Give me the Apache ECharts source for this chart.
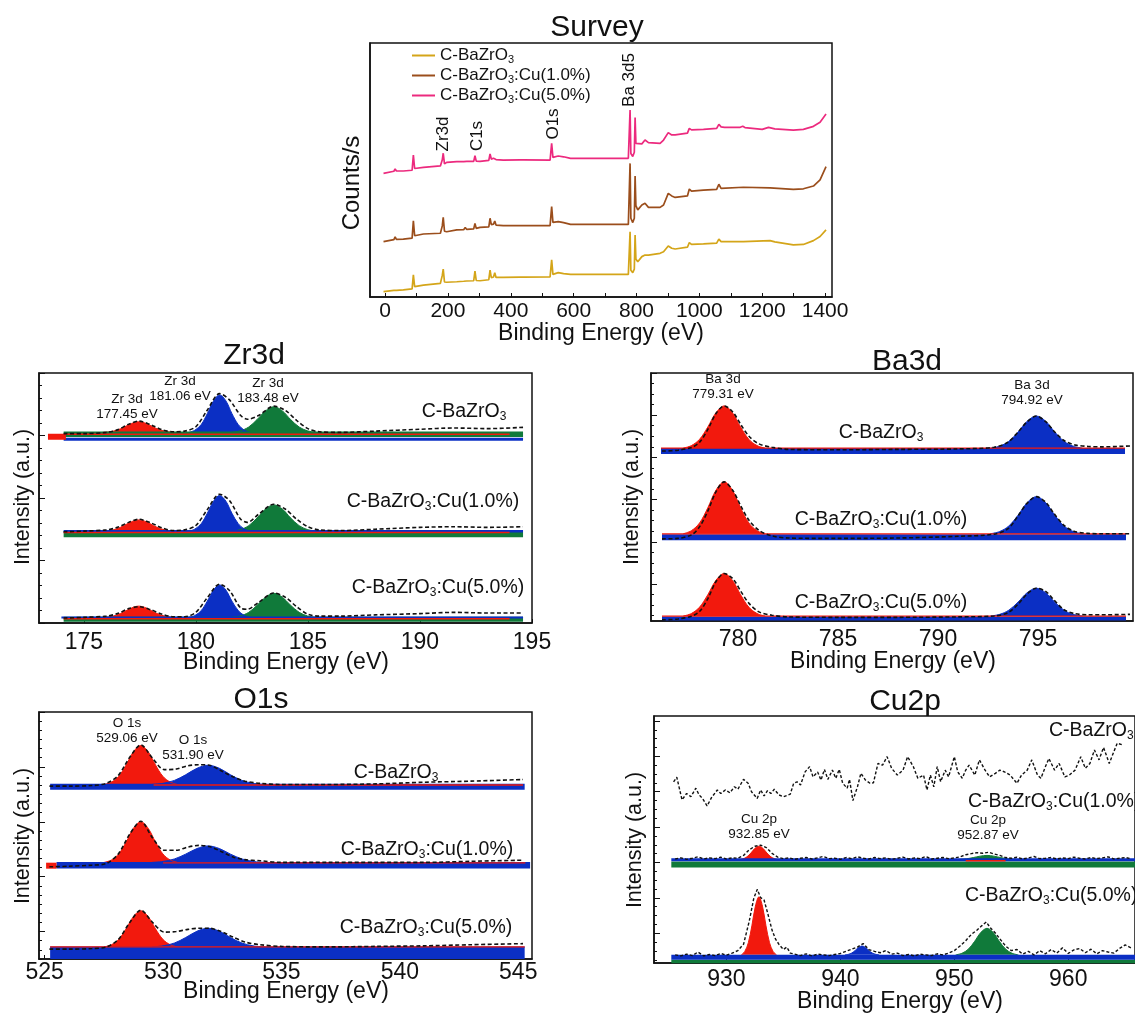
<!DOCTYPE html>
<html>
<head>
<meta charset="utf-8">
<title>XPS spectra of C-BaZrO3 and Cu-doped samples</title>
<script src="https://cdn.jsdelivr.net/npm/echarts@6/dist/echarts.min.js"></script>
<style>
  html, body { margin: 0; padding: 0; background: #ffffff; }
  #chart { width: 1135px; height: 1013px; }
</style>
</head>
<body>
<div id="chart"></div>
<script>
// ---------------------------------------------------------------------------
// Sample names (subscript 3 is rendered with rich text)
// ---------------------------------------------------------------------------
const sampleNames = ['C-BaZrO3', 'C-BaZrO3:Cu(1.0%)', 'C-BaZrO3:Cu(5.0%)'];

// ---------------------------------------------------------------------------
// Survey spectra: [binding energy (eV), counts (a.u., offset)]
// ---------------------------------------------------------------------------
const surveyTickLabels = [0, 200, 400, 600, 800, 1000, 1200, 1400];
const surveyPure = [
  [-5, 2.1], [28, 2.6], [32, 3.1], [36, 2.6], [58, 2.8], [86, 3.2], [90, 8.7], [94, 4.1], [122, 4.7],
  [176, 5.4], [182, 8.5], [185, 11.0], [189, 5.9], [196, 5.8], [228, 6.0], [250, 6.2], [255, 6.8], [260, 6.3],
  [282, 6.4], [286, 10.2], [290, 6.5], [302, 6.4], [330, 6.8], [334, 10.6], [338, 7.6], [345, 7.9], [349, 9.6],
  [353, 7.7], [376, 7.7], [430, 7.8], [435, 8.3], [440, 7.8], [525, 7.9], [530, 14.6], [534, 8.9], [551, 9.6],
  [568, 9.2], [590, 8.9], [700, 8.9], [774, 8.9], [777, 9.0], [779.5, 25.7], [782, 10.5], [788, 9.6], [793, 11.0],
  [795.5, 24.4], [798, 15.0], [804, 13.9], [817, 15.9], [827, 16.5], [838, 16.5], [875, 17.2], [886, 17.8],
  [901, 20.1], [912, 19.2], [923, 18.9], [962, 19.6], [968, 21.4], [975, 20.7], [1013, 20.9], [1055, 21.2],
  [1062, 22.8], [1069, 21.8], [1140, 21.8], [1225, 22.2], [1240, 21.7], [1299, 20.5], [1331, 20.7], [1363, 22.2],
  [1384, 23.8], [1403, 26.4]
];
const surveyCu1 = [
  [-5, 21.8], [28, 22.6], [32, 23.7], [36, 22.7], [58, 22.8], [86, 23.2], [90, 30.0], [94, 24.1], [122, 24.8],
  [176, 25.1], [182, 28.0], [185, 31.4], [189, 25.9], [196, 25.7], [228, 26.4], [250, 26.5], [255, 27.4], [260, 26.6],
  [282, 26.8], [286, 29.0], [290, 27.0], [302, 27.4], [330, 27.6], [334, 31.0], [338, 28.5], [345, 28.7], [349, 29.9],
  [353, 28.3], [376, 28.1], [430, 28.1], [435, 28.6], [440, 28.1], [525, 28.1], [530, 35.6], [534, 29.4], [551, 29.7],
  [568, 29.3], [590, 28.6], [700, 28.6], [774, 28.6], [777, 29.0], [779.5, 52.6], [782, 31.0], [788, 29.3], [793, 31.0],
  [795.5, 47.6], [798, 36.0], [804, 34.3], [817, 36.2], [827, 36.9], [838, 35.3], [875, 35.3], [886, 36.2],
  [901, 40.8], [912, 39.8], [923, 39.2], [962, 39.8], [968, 42.5], [975, 41.7], [1013, 42.1], [1055, 42.4],
  [1062, 44.4], [1069, 42.8], [1140, 43.2], [1225, 43.0], [1299, 42.4], [1331, 42.6], [1363, 43.7],
  [1384, 46.1], [1403, 51.3]
];
const surveyCu5 = [
  [-5, 48.7], [28, 49.5], [32, 50.4], [36, 49.6], [58, 49.6], [86, 49.9], [90, 55.9], [94, 50.6], [122, 51.0],
  [176, 51.6], [182, 54.0], [185, 56.6], [189, 52.4], [196, 53.0], [228, 53.3], [250, 53.3], [255, 53.8], [260, 53.4],
  [282, 53.4], [286, 55.6], [290, 53.5], [302, 53.4], [330, 53.8], [334, 56.3], [338, 54.3], [345, 54.6], [349, 55.2],
  [353, 54.1], [376, 53.9], [430, 54.0], [435, 54.6], [440, 54.0], [525, 53.9], [530, 60.5], [534, 55.0], [551, 55.5],
  [568, 55.2], [590, 54.6], [700, 54.6], [774, 54.6], [777, 55.0], [779.5, 73.6], [782, 56.5], [788, 55.3], [793, 57.0],
  [795.5, 70.7], [798, 60.5], [804, 59.8], [817, 60.3], [827, 61.8], [838, 60.8], [875, 60.5], [886, 61.8],
  [901, 64.7], [912, 63.8], [923, 63.8], [962, 64.5], [968, 66.4], [975, 65.8], [1013, 66.0], [1055, 66.4],
  [1062, 68.0], [1069, 67.0], [1080, 66.8], [1130, 66.8], [1138, 67.2], [1145, 66.7], [1200, 66.0], [1220, 66.8],
  [1240, 66.2], [1299, 65.7], [1331, 66.0], [1363, 67.2], [1384, 68.8], [1403, 72.0]
];

// ---------------------------------------------------------------------------
// Zr 3d: baselines of the three stacked spectra, fitted components
// (heights above baseline) and measured envelope
// ---------------------------------------------------------------------------
const zrTickLabels = [175, 180, 185, 190, 195];
const zrBase = [3.05, 1.47, 0.09];
const zrRedEv = [175.83, 176.15, 176.48, 176.80, 177.13, 177.45, 177.78, 178.10, 178.43, 178.75, 179.08];
const zrRedH = [
  [0, 0.010, 0.036, 0.085, 0.143, 0.17, 0.143, 0.085, 0.036, 0.010, 0],
  [0, 0.011, 0.038, 0.090, 0.151, 0.18, 0.151, 0.090, 0.038, 0.011, 0],
  [0, 0.011, 0.038, 0.090, 0.151, 0.18, 0.151, 0.090, 0.038, 0.011, 0]
];
const zrBlueEv = [179.69, 179.96, 180.24, 180.51, 180.79, 181.06, 181.34, 181.61, 181.89, 182.16, 182.44];
const zrBlueH = [
  [0, 0.036, 0.126, 0.300, 0.504, 0.60, 0.504, 0.300, 0.126, 0.036, 0],
  [0, 0.034, 0.120, 0.285, 0.479, 0.57, 0.479, 0.285, 0.120, 0.034, 0],
  [0, 0.031, 0.109, 0.260, 0.437, 0.52, 0.437, 0.260, 0.109, 0.031, 0]
];
const zrGreenEv = [181.61, 181.98, 182.36, 182.73, 183.11, 183.48, 183.86, 184.23, 184.61, 184.98, 185.36];
const zrGreenH = [
  [0, 0.025, 0.086, 0.205, 0.344, 0.41, 0.344, 0.205, 0.086, 0.025, 0],
  [0, 0.025, 0.088, 0.210, 0.353, 0.42, 0.353, 0.210, 0.088, 0.025, 0],
  [0, 0.023, 0.081, 0.193, 0.323, 0.385, 0.323, 0.193, 0.081, 0.023, 0]
];
const zrEnvEv = [174.1, 175, 176, 176.5, 177, 177.45, 178, 178.5, 179, 179.5, 180, 180.5, 181.06, 181.5,
  182, 182.3, 182.8, 183.48, 184, 184.5, 185, 185.5, 186.5, 188, 190, 191.5, 193, 194.6];
const zrEnv = [
  [-0.02, -0.02, 0.00, 0.04, 0.13, 0.18, 0.12, 0.04, 0.01, 0.02, 0.09, 0.35, 0.62, 0.52,
   0.27, 0.21, 0.27, 0.42, 0.35, 0.19, 0.06, 0.01, 0.00, 0.02, 0.05, 0.07, 0.06, 0.08],
  [-0.01, 0.00, 0.02, 0.06, 0.14, 0.19, 0.13, 0.05, 0.01, 0.02, 0.09, 0.34, 0.59, 0.49,
   0.19, 0.14, 0.27, 0.43, 0.35, 0.19, 0.07, 0.02, 0.01, 0.03, 0.06, 0.07, 0.06, 0.07],
  [-0.01, 0.00, 0.02, 0.06, 0.14, 0.17, 0.12, 0.05, 0.01, 0.01, 0.08, 0.31, 0.53, 0.43,
   0.15, 0.13, 0.24, 0.39, 0.32, 0.17, 0.05, 0.02, 0.02, 0.04, 0.06, 0.08, 0.07, 0.07]
];

// ---------------------------------------------------------------------------
// Ba 3d
// ---------------------------------------------------------------------------
const baTickLabels = [780, 785, 790, 795];
const baBase = [3.22, 1.19, -0.76];
const baRedEv = [777.26, 777.67, 778.08, 778.49, 778.90, 779.31, 779.72, 780.13, 780.54, 780.95, 781.36];
const baRedH = [
  [0, 0.060, 0.210, 0.500, 0.840, 1.00, 0.840, 0.500, 0.210, 0.060, 0],
  [0, 0.074, 0.258, 0.615, 1.033, 1.23, 1.033, 0.615, 0.258, 0.074, 0],
  [0, 0.061, 0.212, 0.505, 0.848, 1.01, 0.848, 0.505, 0.212, 0.061, 0]
];
const baBlueEv = [792.62, 793.08, 793.54, 794.00, 794.46, 794.92, 795.38, 795.84, 796.30, 796.76, 797.22];
const baBlueH = [
  [0, 0.046, 0.160, 0.380, 0.638, 0.76, 0.638, 0.380, 0.160, 0.046, 0],
  [0, 0.053, 0.185, 0.440, 0.739, 0.88, 0.739, 0.440, 0.185, 0.053, 0],
  [0, 0.040, 0.139, 0.330, 0.554, 0.66, 0.554, 0.330, 0.139, 0.040, 0]
];
const baEnvEv = [776.2, 777, 777.7, 778.1, 778.5, 778.9, 779.31, 779.75, 780.15, 780.55, 781.05, 781.7, 782.5, 785,
  788, 791, 792.8, 793.5, 794.0, 794.45, 794.92, 795.4, 795.8, 796.3, 796.8, 797.5, 798.2, 799.6];
const baEnv = [
  [-0.07, -0.05, 0.02, 0.15, 0.45, 0.82, 1.00, 0.85, 0.55, 0.28, 0.10, 0.02, -0.03, -0.04,
   -0.03, -0.02, 0.02, 0.14, 0.38, 0.62, 0.76, 0.62, 0.40, 0.18, 0.08, 0.04, 0.03, 0.05],
  [-0.12, -0.11, -0.02, 0.18, 0.55, 1.00, 1.23, 1.02, 0.65, 0.32, 0.08, -0.05, -0.10, -0.11,
   -0.10, -0.06, -0.01, 0.12, 0.42, 0.72, 0.88, 0.74, 0.48, 0.20, 0.06, 0.01, 0.00, 0.00],
  [-0.09, -0.07, 0.00, 0.12, 0.42, 0.82, 1.01, 0.88, 0.58, 0.30, 0.10, 0.02, -0.02, -0.03,
   -0.03, -0.02, 0.00, 0.08, 0.28, 0.52, 0.66, 0.58, 0.38, 0.15, 0.06, 0.03, 0.03, 0.04]
];

// ---------------------------------------------------------------------------
// O 1s
// ---------------------------------------------------------------------------
const oTickLabels = [525, 530, 535, 540, 545];
const oBase = [2.68, 1.26, -0.28];
const oRedEv = [527.51, 527.82, 528.13, 528.44, 528.75, 529.06, 529.37, 529.68, 529.99, 530.30, 530.61];
const oRedH = [
  [0, 0.043, 0.149, 0.355, 0.596, 0.71, 0.596, 0.355, 0.149, 0.043, 0],
  [0, 0.044, 0.155, 0.370, 0.622, 0.74, 0.622, 0.370, 0.155, 0.044, 0],
  [0, 0.040, 0.139, 0.330, 0.554, 0.66, 0.554, 0.330, 0.139, 0.040, 0]
];
const oBlueEv = [529.53, 530.0, 530.48, 530.95, 531.43, 531.9, 532.38, 532.85, 533.33, 533.8, 534.28];
const oBlueH = [
  [0, 0.021, 0.074, 0.175, 0.294, 0.35, 0.294, 0.175, 0.074, 0.021, 0],
  [0, 0.018, 0.063, 0.150, 0.252, 0.30, 0.252, 0.150, 0.063, 0.018, 0],
  [0, 0.020, 0.071, 0.170, 0.286, 0.34, 0.286, 0.170, 0.071, 0.020, 0]
];
const oEnvEv = [525.2, 526, 527, 527.6, 528.1, 528.6, 529.06, 529.55, 530.05, 530.55, 531.05, 531.5,
  531.95, 532.45, 532.95, 533.45, 534.1, 535, 537, 539, 541, 543, 545.2];
const oEnv = [
  [-0.03, -0.03, -0.02, 0.02, 0.16, 0.50, 0.72, 0.48, 0.27, 0.28, 0.34, 0.36,
   0.35, 0.25, 0.14, 0.06, 0.02, 0.00, 0.00, 0.01, 0.04, 0.06, 0.09],
  [-0.08, -0.07, -0.05, -0.02, 0.15, 0.52, 0.75, 0.45, 0.22, 0.22, 0.28, 0.31,
   0.29, 0.20, 0.10, 0.05, 0.03, 0.00, 0.00, 0.00, 0.00, 0.02, 0.04],
  [-0.04, -0.04, -0.03, 0.00, 0.13, 0.45, 0.67, 0.45, 0.27, 0.28, 0.32, 0.34,
   0.34, 0.28, 0.18, 0.09, 0.04, 0.01, 0.00, 0.01, 0.02, 0.04, 0.06]
];

// ---------------------------------------------------------------------------
// Cu 2p: undoped sample (absolute), doped samples relative to their baselines
// ---------------------------------------------------------------------------
const cuTickLabels = [930, 940, 950, 960];
const cuBase = [0, 2.08, -0.61];
const cuPure = [
  [925.36, 4.28], [925.64, 4.41], [926.1, 3.77], [926.5, 3.95], [926.88, 3.86], [927.31, 4.10], [927.6, 3.91],
  [927.9, 3.81], [928.3, 3.60], [928.7, 3.84], [929.2, 4.05], [929.5, 3.95], [929.9, 4.05], [930.3, 3.97],
  [930.7, 4.14], [931.0, 4.07], [931.5, 4.35], [931.9, 4.24], [932.2, 4.00], [932.7, 3.81], [933.0, 4.05],
  [933.3, 3.88], [933.6, 4.03], [933.9, 3.95], [934.2, 4.07], [934.6, 3.91], [935.0, 3.86], [935.6, 3.93],
  [935.9, 4.24], [936.2, 4.28], [936.5, 4.19], [936.9, 4.56], [937.3, 4.71], [937.6, 4.42], [938.0, 4.56],
  [938.3, 4.33], [938.6, 4.63], [938.9, 4.35], [939.3, 4.61], [939.6, 4.38], [939.9, 4.63], [940.2, 4.24],
  [940.6, 4.10], [940.8, 4.35], [941.1, 3.75], [941.5, 4.14], [941.8, 4.52], [942.2, 4.33], [942.6, 4.24],
  [942.9, 4.25], [943.3, 4.80], [943.7, 4.75], [944.1, 4.99], [944.5, 4.66], [945.0, 4.47], [945.5, 4.61],
  [945.9, 4.99], [946.4, 4.71], [946.8, 4.38], [947.3, 4.47], [947.6, 4.05], [947.9, 4.47], [948.2, 4.14],
  [948.5, 4.71], [948.8, 4.28], [949.2, 4.61], [949.5, 4.42], [950.0, 4.99], [950.3, 4.56], [950.7, 4.38],
  [951.0, 4.61], [951.3, 4.75], [951.8, 4.47], [952.2, 4.90], [952.7, 4.61], [953.1, 4.42], [953.6, 4.52],
  [954.0, 4.61], [954.4, 4.56], [954.9, 4.47], [955.5, 4.24], [955.9, 4.47], [956.4, 4.61], [956.8, 4.90],
  [957.3, 4.47], [957.6, 4.38], [958.0, 4.71], [958.3, 4.94], [958.8, 4.61], [959.2, 4.80], [959.7, 4.42],
  [960.1, 4.47], [960.6, 4.61], [961.1, 4.99], [961.5, 4.66], [961.9, 4.80], [962.3, 5.18], [962.7, 4.90],
  [963.1, 5.25], [963.6, 4.80], [964.0, 5.13], [964.3, 5.37], [964.8, 5.32]
];
const cuCu1 = [
  [925.5, 0.02], [926.0, 0.05], [926.5, 0.01], [927.0, 0.04], [927.5, 0.08], [928.0, 0.02], [928.5, 0.05],
  [929.0, 0.03], [929.5, 0.07], [930.0, 0.02], [930.5, 0.05], [931.0, 0.04], [931.5, 0.12], [932.0, 0.28],
  [932.5, 0.38], [933.0, 0.41], [933.5, 0.34], [934.0, 0.18], [934.5, 0.07], [935.0, 0.03], [935.5, 0.05],
  [936.0, 0.01], [936.5, 0.04], [937.0, 0.06], [937.5, 0.02], [938.0, 0.05], [938.5, 0.09], [939.0, 0.03],
  [939.5, 0.04], [940.0, 0.01], [940.5, 0.06], [941.0, 0.03], [941.5, 0.08], [942.0, 0.04], [942.5, 0.02],
  [943.0, 0.06], [943.5, 0.03], [944.0, 0.05], [944.5, 0.01], [945.0, 0.04], [945.5, 0.07], [946.0, 0.02],
  [946.5, 0.05], [947.0, 0.03], [947.5, 0.09], [948.0, 0.02], [948.5, 0.04], [949.0, 0.06], [949.5, 0.03],
  [950.0, 0.05], [950.5, 0.08], [951.0, 0.14], [951.5, 0.17], [952.0, 0.20], [952.5, 0.18], [953.0, 0.21],
  [953.5, 0.16], [954.0, 0.12], [954.5, 0.06], [955.0, 0.04], [955.5, 0.07], [956.0, 0.02], [956.5, 0.05],
  [957.0, 0.09], [957.5, 0.03], [958.0, 0.04], [958.5, 0.06], [959.0, 0.02], [959.5, 0.05], [960.0, 0.03],
  [960.5, 0.07], [961.0, 0.04], [961.5, 0.02], [962.0, 0.06], [962.5, 0.03], [963.0, 0.05], [963.5, 0.08],
  [964.0, 0.02], [964.5, 0.04], [965.0, 0.06], [965.5, 0.03]
];
const cuCu5 = [
  [925.5, 0.00], [926.0, -0.03], [926.5, 0.02], [927.0, -0.02], [927.5, 0.08], [928.0, -0.03], [928.5, 0.01],
  [929.0, -0.02], [929.5, 0.04], [930.0, -0.01], [930.5, 0.05], [931.0, 0.12], [931.5, 0.30], [932.0, 0.95],
  [932.4, 1.60], [932.7, 1.85], [933.0, 1.62], [933.3, 1.55], [933.6, 1.20], [934.0, 0.70], [934.3, 0.45],
  [934.6, 0.30], [935.0, 0.15], [935.3, 0.22], [935.6, 0.05], [936.0, 0.02], [936.5, -0.02], [937.0, 0.03],
  [937.5, -0.03], [938.0, 0.02], [938.5, 0.00], [939.0, -0.02], [939.5, 0.01], [940.0, 0.04], [940.5, 0.10],
  [941.0, 0.16], [941.5, 0.22], [942.0, 0.32], [942.5, 0.15], [943.0, 0.10], [943.5, 0.06], [944.0, 0.12],
  [944.5, 0.02], [945.0, 0.05], [945.5, -0.02], [946.0, 0.01], [946.5, -0.03], [947.0, 0.02], [947.5, 0.00],
  [948.0, -0.02], [948.5, 0.03], [949.0, 0.00], [949.5, 0.05], [950.0, 0.12], [950.5, 0.25], [951.0, 0.40],
  [951.5, 0.58], [952.0, 0.70], [952.4, 0.82], [952.8, 0.93], [953.2, 0.75], [953.6, 0.62], [954.0, 0.45],
  [954.5, 0.25], [955.0, 0.12], [955.5, 0.15], [956.0, 0.02], [956.5, 0.10], [957.0, 0.00], [957.5, 0.12],
  [958.0, 0.03], [958.5, 0.15], [959.0, 0.05], [959.5, 0.20], [960.0, 0.04], [960.5, 0.14], [961.0, 0.18],
  [961.5, 0.06], [962.0, 0.16], [962.5, 0.03], [963.0, 0.12], [963.5, 0.08], [964.0, 0.05], [964.5, 0.18],
  [965.0, 0.28], [965.5, 0.20]
];
const cuRed1Ev = [931.10, 931.45, 931.80, 932.15, 932.50, 932.85, 933.20, 933.55, 933.90, 934.25, 934.60];
const cuRed1H = [0, 0.023, 0.08, 0.19, 0.32, 0.38, 0.32, 0.19, 0.08, 0.023, 0];
const cuGreen1Ev = [949.87, 950.47, 951.07, 951.67, 952.27, 952.87, 953.47, 954.07, 954.67, 955.27, 955.87];
const cuGreen1H = [0, 0.007, 0.025, 0.06, 0.10, 0.12, 0.10, 0.06, 0.025, 0.007, 0];
const cuRed5Ev = [931.30, 931.61, 931.92, 932.23, 932.54, 932.85, 933.16, 933.47, 933.78, 934.09, 934.40];
const cuRed5H = [0, 0.098, 0.344, 0.82, 1.378, 1.64, 1.378, 0.82, 0.344, 0.098, 0];
const cuBlue5Ev = [940.4, 940.7, 941.0, 941.3, 941.6, 941.9, 942.2, 942.5, 942.8, 943.1, 943.4];
const cuBlue5H = [0, 0.015, 0.053, 0.125, 0.21, 0.25, 0.21, 0.125, 0.053, 0.015, 0];
const cuGreen5Ev = [950.12, 950.67, 951.22, 951.77, 952.32, 952.87, 953.42, 953.97, 954.52, 955.07, 955.62];
const cuGreen5H = [0, 0.045, 0.158, 0.375, 0.63, 0.75, 0.63, 0.375, 0.158, 0.045, 0];

// ---------------------------------------------------------------------------
// Styling helpers
// ---------------------------------------------------------------------------
const FONT = '"Liberation Sans", Arial, Helvetica, sans-serif';
const INK = '#111111';
const RED = '#f2190d';
const BLUE = '#0b2fc4';
const GREEN = '#107a3a';
const SURVEY_COLORS = ['#d4a519', '#9b4e1c', '#ec2a7e'];

function subName(name) {
  const i = name.indexOf('O3');
  const head = name.slice(0, i + 1);
  const tail = name.slice(i + 2);
  return '{n|' + head + '}{s|3}' + (tail ? '{n|' + tail + '}' : '');
}
function richFor(size) {
  return {
    n: { fontSize: size, fontFamily: FONT, fill: INK, color: INK, lineHeight: Math.round(size + 2) },
    s: { fontSize: Math.round(size * 0.62), fontFamily: FONT, fill: INK, color: INK,
         verticalAlign: 'bottom', lineHeight: Math.round(size * 0.4) }
  };
}
function steps(from, to, step, skipInt) {
  const out = [];
  for (let v = from; v <= to + 1e-9; v += step) {
    const r = Math.round(v * 1000) / 1000;
    if (skipInt && Math.abs(r - Math.round(r)) < 1e-6) continue;
    out.push(r);
  }
  return out;
}

const grid = [], xAxis = [], yAxis = [], series = [], graphic = [];

function addPanel(cfg) {
  const gi = grid.length;
  grid.push({ left: cfg.box[0], top: cfg.box[1], width: cfg.box[2], height: cfg.box[3],
              show: true, borderColor: INK, borderWidth: 1.5, backgroundColor: 'rgba(0,0,0,0)' });
  xAxis.push({
    gridIndex: gi, type: 'value', min: cfg.x[0], max: cfg.x[1],
    axisLine: { show: true, onZero: false, lineStyle: { color: INK, width: 1.5 } },
    splitLine: { show: false },
    axisTick: { show: true, inside: true, length: 4, customValues: cfg.xTicks, lineStyle: { color: INK, width: 1 } },
    axisLabel: { show: true, customValues: cfg.xLabels, margin: cfg.labelMargin, fontSize: cfg.labelSize,
                 fontFamily: FONT, color: INK, formatter: v => String(v) }
  });
  const common = { gridIndex: gi, type: 'value', min: cfg.y[0], max: cfg.y[1], position: 'left', offset: 0,
                   splitLine: { show: false }, axisLabel: { show: false } };
  yAxis.push(Object.assign({}, common, {
    axisLine: { show: true, onZero: false, lineStyle: { color: INK, width: 1.5 } },
    axisTick: { show: cfg.yMajor.length > 0, inside: true, length: 6, customValues: cfg.yMajor,
                lineStyle: { color: INK, width: 1 } }
  }));
  yAxis.push(Object.assign({}, common, {
    axisLine: { show: false },
    axisTick: { show: cfg.yMinor.length > 0, inside: true, length: 3, customValues: cfg.yMinor,
                lineStyle: { color: INK, width: 1 } }
  }));
  return gi;
}

const pts = (xs, hs, base) => xs.map((x, i) => [x, base + hs[i]]);
const shift = (pairs, base) => pairs.map(p => [p[0], base + p[1]]);

function fill(gi, data, base, color) {
  series.push({ type: 'line', xAxisIndex: gi, yAxisIndex: 2 * gi, data, smooth: 0.35, symbol: 'none',
    lineStyle: { color, width: 1 }, areaStyle: { color, opacity: 1, origin: base }, z: 2, silent: true });
}
function band(gi, x0, x1, v, color, width) {
  series.push({ type: 'line', xAxisIndex: gi, yAxisIndex: 2 * gi, data: [[x0, v], [x1, v]], symbol: 'none',
    lineStyle: { color, width }, z: 3, silent: true });
}
function block(gi, x0, x1, v, color) {
  series.push({ type: 'line', xAxisIndex: gi, yAxisIndex: 2 * gi, data: [[x0, v], [x1, v]], symbol: 'none',
    lineStyle: { color, width: 1 }, areaStyle: { color, opacity: 1, origin: 'start' }, z: 3, silent: true });
}
function trace(gi, data, smooth, dash, width) {
  series.push({ type: 'line', xAxisIndex: gi, yAxisIndex: 2 * gi, data, smooth, symbol: 'none',
    lineStyle: { color: INK, width: width || 1.6, type: dash || [4, 2.5] }, z: 4, silent: true });
}
function text(x, y, content, size, opts) {
  opts = opts || {};
  graphic.push({ type: 'text', x, y, rotation: opts.rot || 0, z: 100, silent: true,
    style: { text: content, fontSize: size, fontFamily: FONT, fill: INK,
             align: opts.align || 'center', verticalAlign: 'middle', rich: opts.rich } });
}
const LABEL_SIZE = 19.5;
function sampleLabel(x, y, name, align) {
  text(x, y, subName(name), LABEL_SIZE, { rich: richFor(LABEL_SIZE), align: align || 'center' });
}

// ---------------------------------------------------------------------------
// Survey panel
// ---------------------------------------------------------------------------
const gSurvey = addPanel({ box: [370, 43, 462, 254], x: [-48, 1422], y: [0, 100],
  xLabels: surveyTickLabels, xTicks: steps(0, 1400, 100), yMajor: [], yMinor: [],
  labelSize: 21, labelMargin: 4 });
[surveyPure, surveyCu1, surveyCu5].forEach((d, k) => {
  series.push({ name: sampleNames[k], type: 'line', xAxisIndex: gSurvey, yAxisIndex: 2 * gSurvey, data: d,
    symbol: 'none', color: SURVEY_COLORS[k], itemStyle: { color: SURVEY_COLORS[k] },
    lineStyle: { color: SURVEY_COLORS[k], width: 1.7 }, z: 4 });
});

// ---------------------------------------------------------------------------
// Zr 3d panel
// ---------------------------------------------------------------------------
const gZr = addPanel({ box: [39, 373, 493, 250], x: [173, 195], y: [0, 4],
  xLabels: zrTickLabels, xTicks: zrTickLabels, yMajor: steps(0, 4, 1), yMinor: steps(0, 4, 0.2, true),
  labelSize: 23, labelMargin: 8 });
zrBase.forEach((b, k) => {
  fill(gZr, pts(zrRedEv, zrRedH[k], b), b, RED);
  fill(gZr, pts(zrGreenEv, zrGreenH[k], b), b, GREEN);
  fill(gZr, pts(zrBlueEv, zrBlueH[k], b), b, BLUE);
});
// baselines of the fitted components
band(gZr, 174.1, 194.6, zrBase[0] - 0.03, GREEN, 5.5);
band(gZr, 174.1, 194.6, zrBase[0] - 0.11, BLUE, 3);
band(gZr, 174.1, 194.0, zrBase[0] - 0.03, RED, 1.5);
band(gZr, 173.4, 174.2, zrBase[0] - 0.07, RED, 6);
band(gZr, 174.1, 194.6, zrBase[1] - 0.05, GREEN, 6);
band(gZr, 174.1, 194.6, zrBase[1], BLUE, 2.5);
band(gZr, 174.1, 194.0, zrBase[1] - 0.02, RED, 1.5);
band(gZr, 174.1, 194.6, zrBase[2] - 0.03, GREEN, 5);
band(gZr, 174.0, 194.6, zrBase[2], BLUE, 2);
band(gZr, 174.1, 194.0, zrBase[2] - 0.02, RED, 1.5);
zrBase.forEach((b, k) => trace(gZr, pts(zrEnvEv, zrEnv[k], b), 0.3));

// ---------------------------------------------------------------------------
// Ba 3d panel
// ---------------------------------------------------------------------------
const gBa = addPanel({ box: [651, 373, 482, 248], x: [775.65, 799.75], y: [-0.877, 5],
  xLabels: baTickLabels, xTicks: baTickLabels, yMajor: steps(0, 5, 1), yMinor: steps(-0.75, 4.75, 0.25, true),
  labelSize: 23, labelMargin: 7 });
baBase.forEach((b, k) => {
  fill(gBa, pts(baRedEv, baRedH[k], b), b, RED);
  fill(gBa, pts(baBlueEv, baBlueH[k], b), b, BLUE);
});
band(gBa, 776.15, 799.35, baBase[0] - 0.07, BLUE, 6);
band(gBa, 776.15, 799.35, baBase[0], RED, 1.2);
band(gBa, 776.2, 799.4, baBase[1] - 0.08, BLUE, 6);
band(gBa, 776.2, 799.4, baBase[1], RED, 1.2);
band(gBa, 776.2, 799.4, baBase[2] - 0.06, BLUE, 4);
band(gBa, 776.2, 799.4, baBase[2], RED, 1.2);
baBase.forEach((b, k) => trace(gBa, pts(baEnvEv, baEnv[k], b), 0.3));

// ---------------------------------------------------------------------------
// O 1s panel
// ---------------------------------------------------------------------------
const gO = addPanel({ box: [39, 712, 493, 247], x: [524.76, 545.58], y: [-0.5, 4],
  xLabels: oTickLabels, xTicks: oTickLabels, yMajor: steps(0, 4, 1), yMinor: steps(-0.5, 3.9, 1 / 6, true),
  labelSize: 23, labelMargin: 2 });
oBase.forEach((b, k) => {
  fill(gO, pts(oRedEv, oRedH[k], b), b, RED);
  fill(gO, pts(oBlueEv, oBlueH[k], b), b, BLUE);
});
band(gO, 525.23, 545.27, oBase[0] - 0.04, BLUE, 6);
band(gO, 529.6, 545.2, oBase[0] - 0.01, RED, 1.3);
band(gO, 525.5, 545.5, oBase[1] - 0.05, BLUE, 6.5);
band(gO, 525.06, 525.5, oBase[1] - 0.06, RED, 6);
band(gO, 530.0, 545.3, oBase[1] - 0.01, RED, 1.3);
block(gO, 525.23, 545.27, oBase[2], BLUE);
band(gO, 525.23, 545.27, oBase[2], RED, 1.3);
oBase.forEach((b, k) => trace(gO, pts(oEnvEv, oEnv[k], b), 0.3));

// ---------------------------------------------------------------------------
// Cu 2p panel
// ---------------------------------------------------------------------------
const gCu = addPanel({ box: [654, 716, 491, 247], x: [923.64, 965.86], y: [-0.84, 6.14],
  xLabels: cuTickLabels, xTicks: cuTickLabels, yMajor: steps(0, 6, 1), yMinor: steps(-0.75, 6, 0.25, true),
  labelSize: 23, labelMargin: 5 });
fill(gCu, pts(cuRed1Ev, cuRed1H, cuBase[1]), cuBase[1], RED);
fill(gCu, pts(cuGreen1Ev, cuGreen1H, cuBase[1]), cuBase[1], GREEN);
fill(gCu, pts(cuRed5Ev, cuRed5H, cuBase[2]), cuBase[2], RED);
fill(gCu, pts(cuBlue5Ev, cuBlue5H, cuBase[2]), cuBase[2], BLUE);
fill(gCu, pts(cuGreen5Ev, cuGreen5H, cuBase[2]), cuBase[2], GREEN);
band(gCu, 925.16, 965.9, cuBase[1] - 0.14, GREEN, 6);
band(gCu, 925.16, 965.9, cuBase[1], BLUE, 3);
band(gCu, 951.0, 954.5, cuBase[1] - 0.03, RED, 1.5);
band(gCu, 925.16, 965.9, cuBase[2] - 0.19, GREEN, 3.5);
band(gCu, 925.16, 965.9, cuBase[2] - 0.07, BLUE, 5);
trace(gCu, cuPure, false, [3, 2], 1.4);
trace(gCu, shift(cuCu1, cuBase[1]), false, [3, 2], 1.4);
trace(gCu, shift(cuCu5, cuBase[2]), false, [3, 2], 1.4);

// ---------------------------------------------------------------------------
// Text: titles, axis names, annotations
// ---------------------------------------------------------------------------
text(597, 28, 'Survey', 30);
text(254, 356, 'Zr3d', 30);
text(907, 362, 'Ba3d', 30);
text(261, 700, 'O1s', 30);
text(905, 702, 'Cu2p', 30);

text(601, 334, 'Binding Energy (eV)', 23);
text(286, 663, 'Binding Energy (eV)', 23);
text(893, 662, 'Binding Energy (eV)', 23);
text(286, 992, 'Binding Energy (eV)', 23);
text(900, 1002, 'Binding Energy (eV)', 23);

const ROT = Math.PI / 2;
text(352, 183, 'Counts/s', 24, { rot: ROT });
text(23, 497, 'Intensity (a.u.)', 21.5, { rot: ROT });
text(632, 497, 'Intensity (a.u.)', 21.5, { rot: ROT });
text(23, 836, 'Intensity (a.u.)', 21.5, { rot: ROT });
text(635, 840, 'Intensity (a.u.)', 21.5, { rot: ROT });

// survey peak assignments
text(443, 134, 'Zr3d', 17, { rot: ROT });
text(477, 136, 'C1s', 17, { rot: ROT });
text(553, 124, 'O1s', 17, { rot: ROT });
text(629, 80, 'Ba 3d5', 17, { rot: ROT });

// sample labels
sampleLabel(464, 412, sampleNames[0]);
sampleLabel(433, 502, sampleNames[1]);
sampleLabel(438, 588, sampleNames[2]);
sampleLabel(881, 433, sampleNames[0]);
sampleLabel(881, 520, sampleNames[1]);
sampleLabel(881, 603, sampleNames[2]);
sampleLabel(396, 773, sampleNames[0]);
sampleLabel(427, 850, sampleNames[1]);
sampleLabel(426, 928, sampleNames[2]);
sampleLabel(1049, 731, sampleNames[0], 'left');
sampleLabel(968, 802, sampleNames[1], 'left');
sampleLabel(965, 896, sampleNames[2], 'left');

// fitted peak positions
[
  ['Zr 3d', '177.45 eV', 127, 399], ['Zr 3d', '181.06 eV', 180, 381], ['Zr 3d', '183.48 eV', 268, 383],
  ['Ba 3d', '779.31 eV', 723, 379], ['Ba 3d', '794.92 eV', 1032, 385],
  ['O 1s', '529.06 eV', 127, 723], ['O 1s', '531.90 eV', 193, 740],
  ['Cu 2p', '932.85 eV', 759, 819], ['Cu 2p', '952.87 eV', 988, 820]
].forEach(([a, b, x, y]) => { text(x, y, a, 13.5); text(x, y + 15.5, b, 13.5); });

// ---------------------------------------------------------------------------
const chart = echarts.init(document.getElementById('chart'), null, { renderer: 'canvas' });
chart.setOption({
  animation: false,
  backgroundColor: '#ffffff',
  textStyle: { fontFamily: FONT },
  legend: {
    data: sampleNames, left: 412, top: 47, orient: 'vertical', padding: 0,
    itemWidth: 23, itemHeight: 2, itemGap: 2, icon: 'rect', selectedMode: false,
    formatter: name => subName(name),
    textStyle: { color: INK, fontFamily: FONT, fontSize: 17, rich: richFor(17) }
  },
  grid, xAxis, yAxis, series, graphic
});
</script>
</body>
</html>
